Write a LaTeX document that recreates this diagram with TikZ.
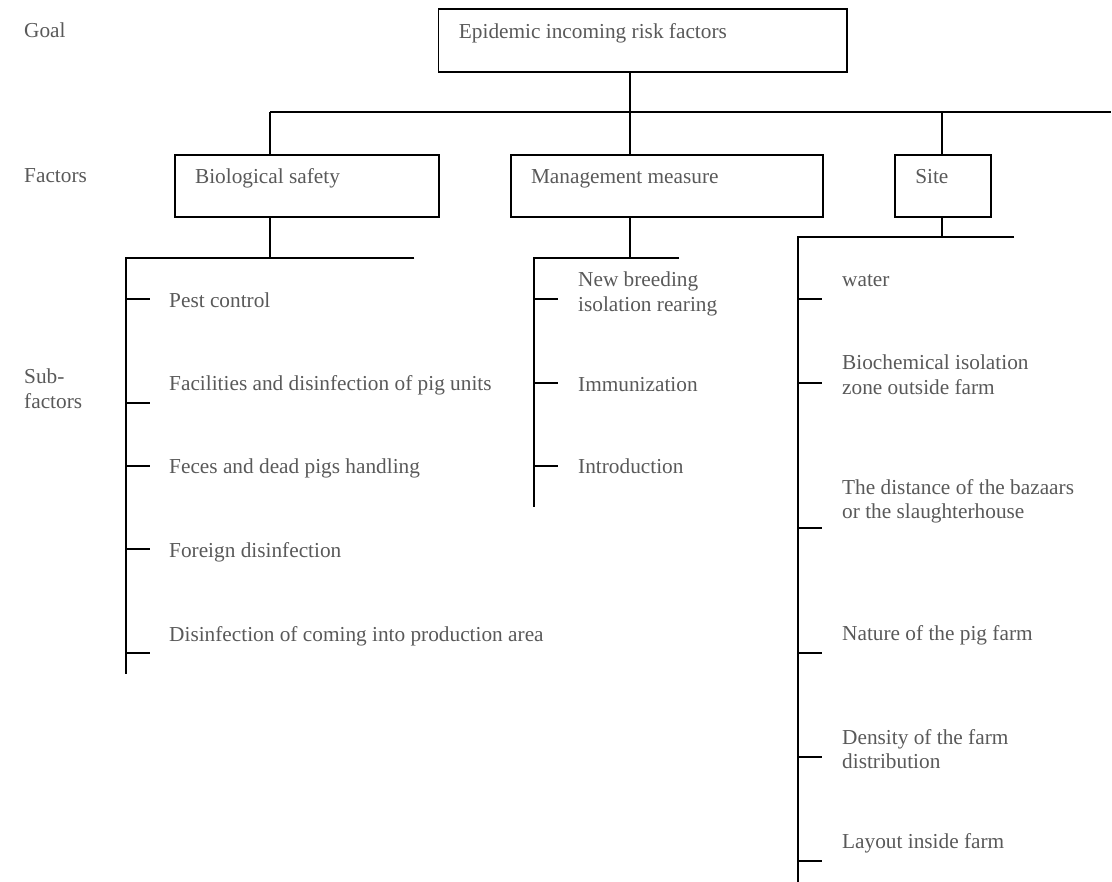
\documentclass[tikz,border=0pt]{standalone}
\usepackage{fontspec}
\setmainfont{Liberation Serif}
\definecolor{txt}{HTML}{595959}
\newcommand\myfs{\fontsize{21.3}{24.5}\selectfont}
\tikzset{
  lbl/.style={anchor=base west, inner sep=0pt, text=txt, font=\myfs, align=flush left},
  box/.style={draw, line width=1.9pt, anchor=north west, inner xsep=20.5pt, inner ysep=0pt,
              text=txt, font=\myfs, align=flush left},
  ln/.style={line width=1.9pt},
  fbox/.style={box, text height=29pt, text depth=33pt}
}
\begin{document}
\begin{tikzpicture}[x=1pt,y=-1pt]
\useasboundingbox (0,0) rectangle (1112,882);
% level labels
\node[lbl] (lgoal) at (24,38) {Goal};
\node[lbl] (lfac) at (24,183) {Factors};
\node[lbl] (lsub) at (24,408.5) {Sub-\\factors};
% boxes
\node[box, text width=367.5pt, text height=30pt, text depth=32.7pt] (goal) at (437.5,8) {Epidemic incoming risk factors};
\node[fbox, text width=223.6pt] (bio) at (173.6,154) {Biological safety};
\node[fbox, text width=271.6pt] (mgmt) at (509.6,154) {Management measure};
\node[fbox, text width=55.4pt] (site) at (893.8,154) {Site};
% stem positions
\coordinate (xg) at (630,0);
\coordinate (xs) at (942,0);
\coordinate (busL) at (270,112);
\coordinate (busR) at (1111,112);
% top bus
\draw[ln] (busL) -- (busR);
\draw[ln] (goal.south -| xg) -- (mgmt.north -| xg);
\draw[ln] (busL) -- (bio.north -| busL);
\draw[ln] (xs |- busL) -- (site.north -| xs);
% biological safety bracket
\coordinate (bioTL) at (125.7,257.7);
\coordinate (bioTR) at (414.3,257.7);
\coordinate (bioB) at (125.7,674);
\draw[ln] (bio.south -| busL) -- (busL |- bioTL);
\draw[ln] (bioTR) -- (bioTL) -- (bioB);
\foreach \y in {299.3,403,466,549,653} \draw[ln] (125.7,\y) -- (150,\y);
% management bracket
\coordinate (mTL) at (533.7,257.7);
\coordinate (mTR) at (679,257.7);
\coordinate (mB) at (533.7,507);
\draw[ln] (mgmt.south -| xg) -- (xg |- mTL);
\draw[ln] (mTR) -- (mTL) -- (mB);
\foreach \y in {299.3,382.7,466} \draw[ln] (533.7,\y) -- (558,\y);
% site bracket
\coordinate (sTL) at (797.7,237);
\coordinate (sTR) at (1014,237);
\coordinate (sB) at (797.7,882);
\draw[ln] (site.south -| xs) -- (xs |- sTL);
\draw[ln] (sTR) -- (sTL) -- (sB);
\foreach \y in {299.4,382.6,528.3,652.9,757.2,861} \draw[ln] (797.7,\y) -- (822,\y);
% sub-factors: biological safety
\node[lbl] (b1) at (169,308) {Pest control};
\node[lbl] (b2) at (169,391) {Facilities and disinfection of pig units};
\node[lbl] (b3) at (169,474) {Feces and dead pigs handling};
\node[lbl] (b4) at (169,558) {Foreign disinfection};
\node[lbl] (b5) at (169,641) {Disinfection of coming into production area};
% sub-factors: management measure
\node[lbl] (m1) at (578,311.5) {New breeding\\isolation rearing};
\node[lbl] (m2) at (578,392) {Immunization};
\node[lbl] (m3) at (578,474) {Introduction};
% sub-factors: site
\node[lbl] (s1) at (842,287) {water};
\node[lbl] (s2) at (842,394.5) {Biochemical isolation\\zone outside farm};
\node[lbl] (s3) at (842,518.5) {The distance of the bazaars\\or the slaughterhouse};
\node[lbl] (s4) at (842,640) {Nature of the pig farm};
\node[lbl] (s5) at (842,768.5) {Density of the farm\\distribution};
\node[lbl] (s6) at (842,848) {Layout inside farm};
\end{tikzpicture}
\end{document}
